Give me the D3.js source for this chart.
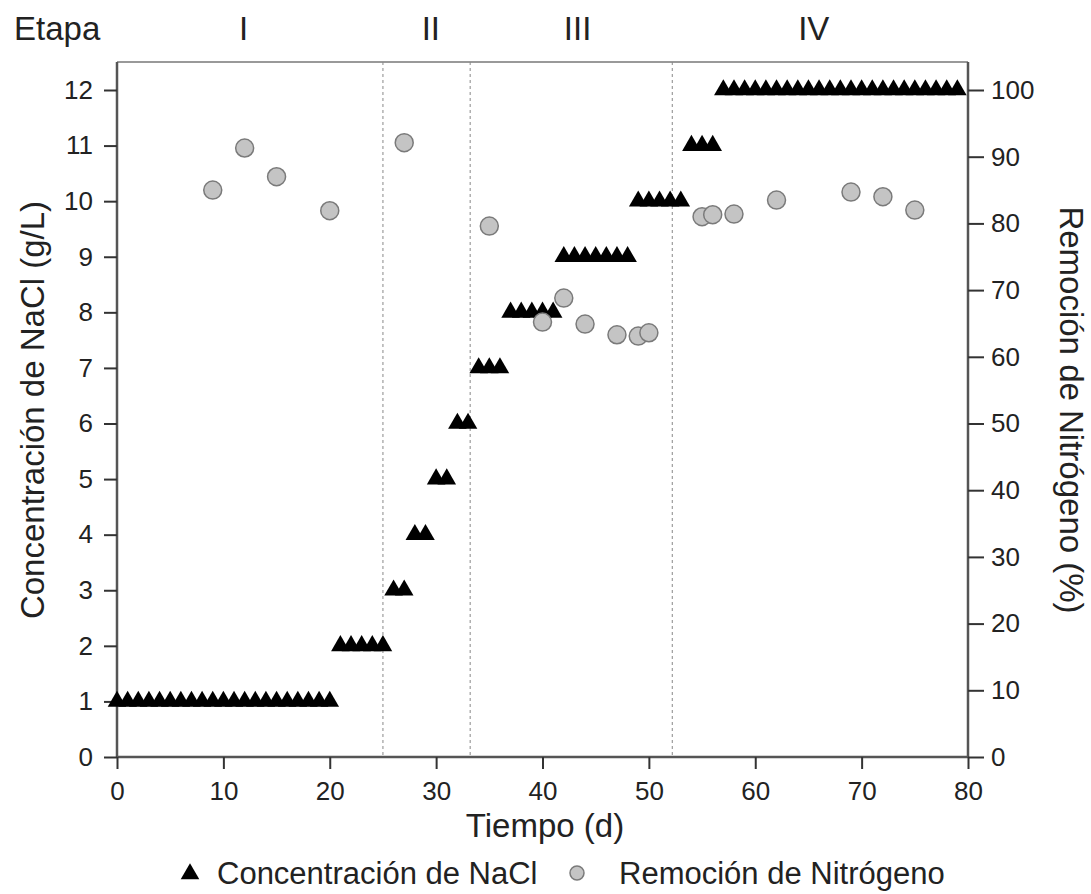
<!DOCTYPE html>
<html><head><meta charset="utf-8">
<script src="https://cdn.jsdelivr.net/npm/d3@7"></script>
<style>body{margin:0;background:#fff}svg{display:block}text{font-family:"Liberation Sans",Arial,sans-serif;fill:#222}</style>
</head><body>
<svg id="c" width="1091" height="894"></svg>
<script>
// NaCl concentration (g/L) by day
const naclDays = [0,1,2,3,4,5,6,7,8,9,10,11,12,13,14,15,16,17,18,19,20,
  21,22,23,24,25, 26,27, 28,29, 30,31, 32,33, 34,35,36, 37,38,39,40,41,
  42,43,44,45,46,47,48, 49,50,51,52,53, 54,55,56,
  57,58,59,60,61,62,63,64,65,66,67,68,69,70,71,72,73,74,75,76,77,78,79];
const naclValues = [1,1,1,1,1,1,1,1,1,1,1,1,1,1,1,1,1,1,1,1,1,
  2,2,2,2,2, 3,3, 4,4, 5,5, 6,6, 7,7,7, 8,8,8,8,8,
  9,9,9,9,9,9,9, 10,10,10,10,10, 11,11,11,
  12,12,12,12,12,12,12,12,12,12,12,12,12,12,12,12,12,12,12,12,12,12,12];
// Nitrogen removal (%)
const remDays = [9,12,15,20,27,35,40,42,44,47,49,50,55,56,58,62,69,72,75];
const remValues = [85,91.3,87,81.9,92.1,79.6,65.2,68.8,64.9,63.3,63.1,63.6,81,81.3,81.4,83.5,84.7,84,82];
// Stage dividers & labels
const stageBounds = [25,33.2,52.2];
const stageLabels = ["I","II","III","IV"];
const stageLabelX = [11.9,29.5,43.3,65.5];
const xTicks = [0,10,20,30,40,50,60,70,80];
const yLeftTicks = [0,1,2,3,4,5,6,7,8,9,10,11,12];
const yRightTicks = [0,10,20,30,40,50,60,70,80,90,100];

const svg = d3.select("#c");
const L=117,R=968,T=62,B=757;
const x = d3.scaleLinear().domain([0,80]).range([L,R]);
const yL = d3.scaleLinear().domain([0,12]).range([B,90]);
const yR = d3.scaleLinear().domain([0,100]).range([B,90]);

// top border
svg.append("line").attr("x1",L).attr("x2",R).attr("y1",T).attr("y2",T).attr("stroke","#999").attr("stroke-width",2);

// stage dividers
svg.selectAll(".div").data(stageBounds).enter().append("line")
  .attr("x1",d=>x(d)).attr("x2",d=>x(d)).attr("y1",T).attr("y2",B)
  .attr("stroke","#888").attr("stroke-width",1).attr("stroke-dasharray","3,3");

// axes
const ax = svg.append("g").attr("transform",`translate(0,${B})`)
  .call(d3.axisBottom(x).tickValues(xTicks).tickSize(12).tickPadding(13));
const ayl = svg.append("g").attr("transform",`translate(${L},0)`)
  .call(d3.axisLeft(yL).tickValues(yLeftTicks).tickSize(13).tickPadding(11));
const ayr = svg.append("g").attr("transform",`translate(${R},0)`)
  .call(d3.axisRight(yR).tickValues(yRightTicks).tickSize(16).tickPadding(7));
[ax,ayl,ayr].forEach(g=>{
  g.select(".domain").attr("stroke","#555").attr("stroke-width",2.5);
  g.selectAll(".tick line").attr("stroke","#333").attr("stroke-width",2);
  g.selectAll(".tick text").attr("font-size",26).attr("fill","#222").attr("font-family","Liberation Sans, Arial, sans-serif");
});
ayl.select(".domain").attr("d",`M0,${T}V${B}`);
ayr.select(".domain").attr("d",`M0,${T}V${B}`);
ax.select(".domain").attr("d",`M${L},0H${R}`);

// triangles
const tri = d3.symbol().type(d3.symbolTriangle).size(150);
svg.append("g").selectAll("path").data(naclDays).enter().append("path")
  .attr("d",tri).attr("fill","#000")
  .attr("transform",(d,i)=>`translate(${x(d)},${yL(naclValues[i])})`);

// circles
svg.append("g").selectAll("circle").data(remDays).enter().append("circle")
  .attr("cx",d=>x(d)).attr("cy",(d,i)=>yR(remValues[i])).attr("r",9)
  .attr("fill","#c4c4c4").attr("stroke","#7a7a7a").attr("stroke-width",1.5);

// stage labels
svg.append("text").attr("x",14).attr("y",40).attr("font-size",33).text("Etapa");
svg.selectAll(".st").data(stageLabels).enter().append("text")
  .attr("x",(d,i)=>x(stageLabelX[i])).attr("y",40).attr("text-anchor","middle").attr("font-size",33).text(d=>d);

// axis titles
svg.append("text").attr("x",545).attr("y",837).attr("text-anchor","middle").attr("font-size",33).text("Tiempo (d)");
svg.append("text").attr("transform","translate(44,410) rotate(-90)").attr("text-anchor","middle").attr("font-size",33).text("Concentración de NaCl (g/L)");
svg.append("text").attr("transform","translate(1060,410) rotate(90)").attr("text-anchor","middle").attr("font-size",33).text("Remoción de Nitrógeno (%)");

// legend
svg.append("path").attr("d",d3.symbol().type(d3.symbolTriangle).size(150)).attr("fill","#000").attr("transform","translate(190,874)");
svg.append("text").attr("x",217).attr("y",884).attr("font-size",31).text("Concentración de NaCl");
svg.append("circle").attr("cx",577).attr("cy",873).attr("r",7).attr("fill","#c4c4c4").attr("stroke","#7a7a7a").attr("stroke-width",1.5);
svg.append("text").attr("x",619).attr("y",884).attr("font-size",31).text("Remoción de Nitrógeno");
</script>
</body></html>
